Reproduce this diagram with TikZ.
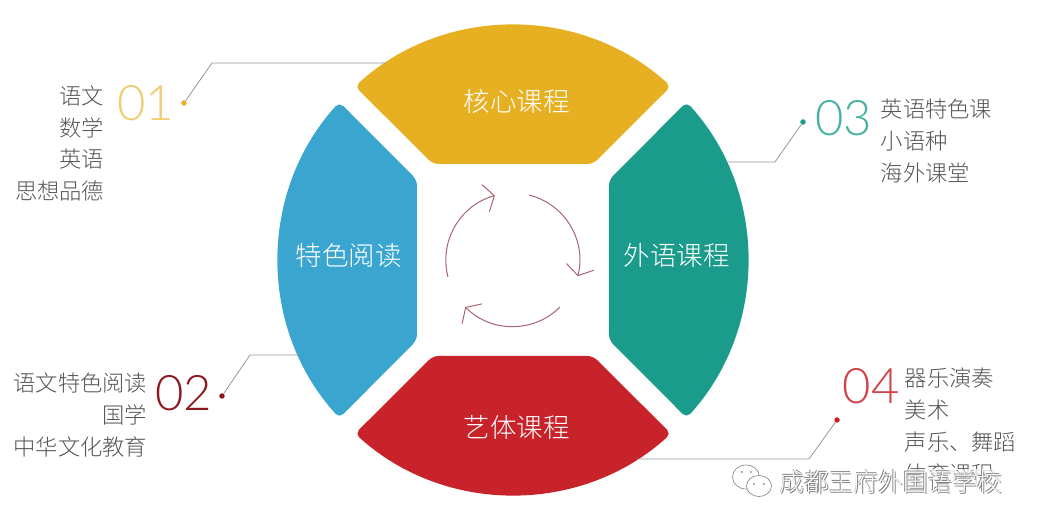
\documentclass[tikz,border=0pt]{standalone}
\usepackage{fontspec}
\usetikzlibrary{arrows.meta,shapes.geometric}
\setmainfont{Noto Sans CJK SC Light}
\newfontfamily\numfont{Lato Light}
\definecolor{ycol}{RGB}{230,176,34}
\definecolor{bcol}{RGB}{58,166,208}
\definecolor{tcol}{RGB}{26,155,140}
\definecolor{rcol}{RGB}{200,34,42}
\definecolor{arrowcol}{RGB}{170,100,112}
\definecolor{linecol}{RGB}{150,150,150}
\definecolor{textcol}{RGB}{85,85,85}
\tikzset{every picture/.style={x=1pt,y=1pt}}
\tikzset{segment/.style={rounded corners=5.5}}
\tikzset{title/.style={white,inner sep=0,font=\fontsize{26.5}{30}\selectfont}}
\tikzset{number/.style={inner sep=0,font=\fontsize{49}{60}\selectfont\numfont}}
\tikzset{items/.style={textcol,inner sep=0,font=\fontsize{22.3}{31.7}\selectfont}}
\tikzset{leader/.style={linecol,line width=.8}}
\tikzset{dot/.style={circle,fill,inner sep=0,minimum size=5.5}}
\tikzset{turn/.style={arrowcol,line width=1,-{Straight Barb[length=9,width=28]}}}
\tikzset{wmark/.style={inner sep=0,font=\fontsize{24.7}{28}\selectfont}}
\tikzset{bubble/.style={ellipse,draw=gray,inner sep=0,line width=.6}}
\begin{document}
\begin{tikzpicture}
\useasboundingbox (-513,-267) rectangle (524,260);

\fill [ycol,segment] (-80,96) -- (-158,173.6) arc (132.3:47.7:234.7) -- (80,96) -- cycle;
\fill [bcol,segment,rotate=90] (-80,96) -- (-158,173.6) arc (132.3:47.7:234.7) -- (80,96) -- cycle;
\fill [rcol,segment,rotate=180] (-80,96) -- (-158,173.6) arc (132.3:47.7:234.7) -- (80,96) -- cycle;
\fill [tcol,segment,rotate=270] (-80,96) -- (-158,173.6) arc (132.3:47.7:234.7) -- (80,96) -- cycle;

\node [title] (core) at (4,159) {核心课程};
\node [title] (reading) at (-164,5) {特色阅读};
\node [title] (foreign) at (164,5) {外语课程};
\node [title] (arts) at (4,-167) {艺体课程};

\coordinate (s1) at (-65,-17);
\coordinate (s2) at (16,65);
\coordinate (s3) at (47,-47);
\draw [turn] (s1) arc (194.6:105.5:67);
\draw [turn] (s2) arc (76:-14:67);
\draw [turn] (s3) arc (-45:-135:67);

\node [items,anchor=east,align=right] (list1) at (-408.5,116.5) {语文\\数学\\英语\\思想品德};
\node [items,anchor=east,align=right] (list2) at (-365.5,-155) {语文特色阅读\\国学\\中华文化教育};
\node [items,anchor=west,align=left] (list3) at (367.5,119) {英语特色课\\小语种\\海外课堂};
\node [items,anchor=west,align=left] (list4) at (391.5,-166) {器乐演奏\\美术\\声乐、舞蹈\\体育课程};

\node [number,ycol!65!white] (n1) at (-367,157) {01};
\node [number,rcol!70!black] (n2) at (-329,-133) {02};
\node [number,tcol!80!white] (n3) at (331,142) {03};
\node [number,rcol!85!white] (n4) at (358,-126) {04};

\node [ycol,dot] (d1) at (-329,157) {};
\node [rcol!70!black,dot] (d2) at (-291,-136) {};
\node [tcol,dot] (d3) at (290,138) {};
\node [rcol,dot] (d4) at (324,-160) {};

\coordinate (b1) at (-301,197);
\coordinate (b2) at (-263,-95);
\coordinate (b3) at (262,98);
\coordinate (b4) at (296,-199);
\coordinate (e1) at (-127,197);
\coordinate (e2) at (-213,-95);
\coordinate (e3) at (214,98);
\coordinate (e4) at (124,-199);

\draw [leader] (d1) -- (b1) -- (e1);
\draw [leader] (d2) -- (b2) -- (e2);
\draw [leader] (d3) -- (b3) -- (e3);
\draw [leader] (d4) -- (b4) -- (e4);

% watermark over the last list line
\fill [white,opacity=.8] (262,-209) rectangle (495,-236);
\node [wmark,gray] (w1) at (378.7,-222.7) {成都王府外国语学校};
\node [wmark,gray] (w2) at (377.3,-221.3) {成都王府外国语学校};
\node [wmark,white] (w3) at (378,-222) {成都王府外国语学校};

\node [bubble,minimum width=27,minimum height=24] (wl) at (233,-217) {};
\node [bubble,fill=white,minimum width=25,minimum height=21] (wr) at (246,-226) {};
\node [gray,dot,minimum size=2] (e5) at (229,-212) {};
\node [gray,dot,minimum size=2] (e6) at (238,-212) {};
\node [gray,dot,minimum size=2] (e7) at (241,-224) {};
\node [gray,dot,minimum size=2] (e8) at (251,-224) {};
\end{tikzpicture}
\end{document}
